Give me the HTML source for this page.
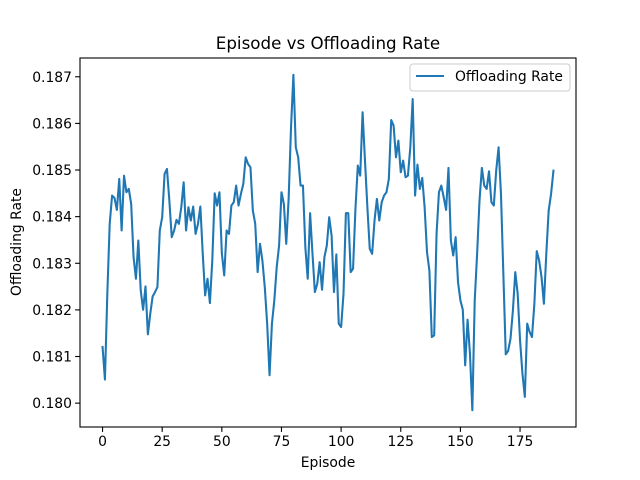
<!DOCTYPE html>
<html><head><meta charset="utf-8"><style>
body{margin:0;background:#fff}
svg{display:block;font-family:"DejaVu Sans","Liberation Sans",sans-serif}
</style></head><body>
<svg id="chart" width="640" height="480" viewBox="0 0 640 480">
<rect x="0" y="0" width="640" height="480" fill="#fff"/>
<text x="328" y="49" font-size="16.7" text-anchor="middle">Episode vs Offloading Rate</text>
<g id="plot"></g>
<text x="328" y="467" font-size="13.9" text-anchor="middle">Episode</text>
<text x="0" y="0" font-size="13.9" text-anchor="middle" transform="translate(21,242) rotate(-90)">Offloading Rate</text>
<g>
<rect x="410" y="64" width="160" height="27" rx="3" fill="#fff" fill-opacity="0.8" stroke="#ccc"/>
<line x1="416" y1="76" x2="444" y2="76" stroke="#1f77b4" stroke-width="2.08"/>
<text x="455" y="81" font-size="13.9">Offloading Rate</text>
</g>
</svg>
<script>
const xTicks = [0,25,50,75,100,125,150,175];
const yTicks = [0.180,0.181,0.182,0.183,0.184,0.185,0.186,0.187];
const rates = [
0.181204,0.180505,0.182346,0.183845,0.184452,0.184402,0.184145,0.184809,0.183703,0.184880,
0.184523,0.184595,0.184274,0.183132,0.182668,0.183488,0.182418,0.182004,0.182503,0.181476,
0.181918,0.182289,0.182382,0.182489,0.183703,0.183988,0.184916,0.185023,0.184345,0.183560,
0.183703,0.183931,0.183845,0.184202,0.184738,0.183703,0.184202,0.183917,0.184217,0.183631,
0.183845,0.184217,0.183203,0.182311,0.182668,0.182147,0.183060,0.184502,0.184238,0.184523,
0.183217,0.182739,0.183703,0.183631,0.184238,0.184309,0.184666,0.184238,0.184488,0.184702,
0.185273,0.185130,
0.185059,0.184131,0.183845,0.182810,0.183417,0.183060,0.182489,0.181704,0.180598,0.181704,
0.182204,0.182917,0.183381,0.184523,0.184274,0.183417,0.184381,0.185915,0.187043,0.185487,
0.185273,0.184666,0.184666,0.183346,0.182668,0.184074,0.183203,0.182382,0.182561,0.183025,
0.182432,0.183132,0.183381,0.183988,0.183596,0.182382,0.183189,0.181704,0.181633,0.182346,
0.184074,0.184074,0.182810,0.182882,0.184167,0.185095,0.184880,0.186237,0.185202,0.184202,
0.183310,0.183203,0.183917,0.184381,0.183917,0.184309,0.184452,0.184523,0.184809,0.186072,
0.185951,0.185273,0.185630,0.184952,0.185202,0.184845,0.184880,0.185487,0.186522,
0.184452,0.185116,0.184595,0.184830,0.184202,0.183239,0.182846,0.181418,0.181454,0.183631,
0.184523,0.184666,0.184416,0.184145,0.185045,0.183488,0.183167,0.183560,0.182596,0.182204,
0.182004,0.180812,0.181790,0.181062,0.179848,0.182204,0.183203,0.184345,0.185045,0.184666,
0.184595,0.184973,0.184309,0.184238,0.184987,0.185487,0.184488,0.182775,0.181047,0.181119,
0.181383,0.181989,0.182810,0.182346,0.181347,0.180633,0.180134,0.181704,0.181526,0.181418,
0.182132,0.183260,0.183060,0.182703,0.182132,0.183203,0.184131,0.184488,0.184987];
const episodes = rates.map((_, i) => i);

const NS = "http://www.w3.org/2000/svg";
const L = 80, R = 576, T = 58, B = 427;
const xMin = Math.min(...episodes), xMax = Math.max(...episodes);
const xPad = (xMax - xMin) * 0.05;
const yMin = Math.min(...rates), yMax = Math.max(...rates);
const yPad = (yMax - yMin) * 0.05;
function sx(v){ return L + (v - (xMin - xPad)) / ((xMax + xPad) - (xMin - xPad)) * (R - L); }
function sy(v){ return B - (v - (yMin - yPad)) / ((yMax + yPad) - (yMin - yPad)) * (B - T); }

const plot = document.getElementById('plot');
function mk(tag, attrs){ const e = document.createElementNS(NS, tag); for (const k in attrs) e.setAttribute(k, attrs[k]); plot.appendChild(e); return e; }

let d = '';
rates.forEach((v, i) => { d += (i ? 'L' : 'M') + sx(episodes[i]).toFixed(2) + ',' + sy(v).toFixed(2); });
const line = mk('path', {d: d, fill: 'none', stroke: '#1f77b4', 'stroke-width': 2.08, 'stroke-linejoin': 'round', 'stroke-linecap': 'square'});



xTicks.forEach(t => {
  const x = sx(t);
  const tk = mk('line', {x1: x, y1: B, x2: x, y2: B + 4.9, stroke: '#000', 'stroke-width': 1.1});
  
  
  const lb = mk('text', {x: x, y: B + 19, 'font-size': 13.9, 'text-anchor': 'middle'});
  lb.textContent = String(t);
  
  
});
yTicks.forEach(t => {
  const y = sy(t);
  const tk = mk('line', {x1: L - 4.9, y1: y, x2: L, y2: y, stroke: '#000', 'stroke-width': 1.1});
  
  
  const lb = mk('text', {x: L - 8, y: y + 5, 'font-size': 13.9, 'text-anchor': 'end'});
  lb.textContent = t.toFixed(3);
  
  
});
const frame = mk('rect', {x: L, y: T, width: R - L, height: B - T, fill: 'none', stroke: '#000', 'stroke-width': 1.1});


</script>
</body></html>
